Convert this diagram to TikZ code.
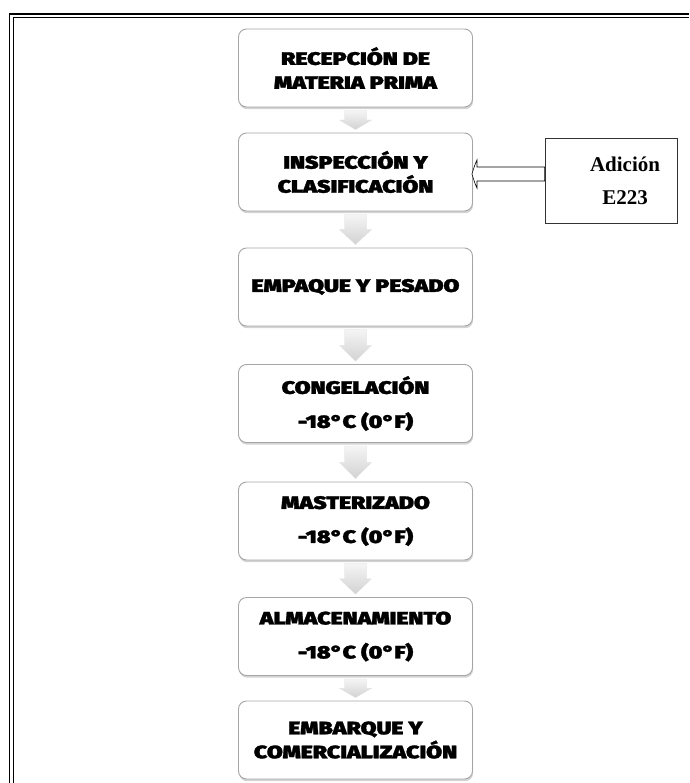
\documentclass[tikz,border=0pt]{standalone}
\usepackage{fontspec}
\setmainfont{Liberation Serif}
\newfontfamily\heavyfont{Fira Sans}[UprightFont={* Black},FakeStretch=1.28,FakeBold=1.5]
\usetikzlibrary{calc,shadows}
\tikzset{
  stepbox/.style={draw=gray!70, line width=0.9pt, rounded corners=8pt, fill=white,
    minimum width=234pt, minimum height=78pt, align=center,
    font=\heavyfont\fontsize{18}{24}\selectfont,
    drop shadow={shadow xshift=0.6pt, shadow yshift=-2.2pt, opacity=0.35, fill=gray}},
  addbox/.style={draw=black!80, line width=0.7pt, fill=white, minimum width=132pt,
    minimum height=85pt, align=center, font=\bfseries\fontsize{21}{24}\selectfont},
  arrowfill/.style={top color=gray!8, bottom color=gray!35, draw=gray!25, line width=0.3pt},
}
\newcommand\flowarrow[2]{%
  \path (#1.south) ++(0,3) coordinate (ta) (#2.north) ++(0,-3) coordinate (te);
  \path ($(ta)!0.5!(te)$) coordinate (tm);
  \path[arrowfill] ($(ta)+(-11,0)$) -- ($(ta)+(11,0)$) -- ($(tm)+(11,0)$) -- ($(tm)+(16,0)$)
    -- (te) -- ($(tm)+(-16,0)$) -- ($(tm)+(-11,0)$) -- cycle;
}
\begin{document}
\begin{tikzpicture}[x=1pt,y=-1pt]
\useasboundingbox (0,0) rectangle (689,783);
% page border
\draw[line width=1.6pt] (689,14) -- (9.5,14) -- (9.5,783);
\draw[line width=1pt] (689,17.5) -- (13,17.5) -- (13,783);
% steps
\node[stepbox] (rec) at (355.5,68) {RECEPCIÓN DE\\MATERIA PRIMA};
\node[stepbox] (ins) at (355.5,172) {INSPECCIÓN Y\\CLASIFICACIÓN};
\node[stepbox] (emp) at (355.5,287) {EMPAQUE Y PESADO};
\node[stepbox] (con) at (355.5,403.5) {CONGELACIÓN\\[10pt]-18°C (0°F)};
\node[stepbox] (mas) at (355.5,521) {MASTERIZADO\\[10pt]-18°C (0°F)};
\node[stepbox] (alm) at (355.5,636.5) {ALMACENAMIENTO\\[10pt]-18°C (0°F)};
\node[stepbox] (emb) at (355.5,740) {EMBARQUE Y\\COMERCIALIZACIÓN};
% flow arrows
\flowarrow{rec}{ins}
\flowarrow{ins}{emp}
\flowarrow{emp}{con}
\flowarrow{con}{mas}
\flowarrow{mas}{alm}
\flowarrow{alm}{emb}
% addition box
\node[addbox] (adic) at (611,180.5) {\hspace*{28pt}Adición\\[9pt]\hspace*{28pt}E223};
\coordinate (tip) at ($(ins.east)+(-1,2)$);
\draw[line width=0.6pt, fill=white] (tip) .. controls ($(tip)+(2,-7)$) and ($(tip)+(4,-12)$) .. ($(tip)+(5,-14)$)
  -- ($(tip)+(5,-7)$) -- ($(adic.west |- tip)+(0,-7)$) -- ($(adic.west |- tip)+(0,7)$)
  -- ($(tip)+(5,7)$) -- ($(tip)+(5,14)$) .. controls ($(tip)+(4,12)$) and ($(tip)+(2,7)$) .. (tip) -- cycle;
\end{tikzpicture}
\end{document}
